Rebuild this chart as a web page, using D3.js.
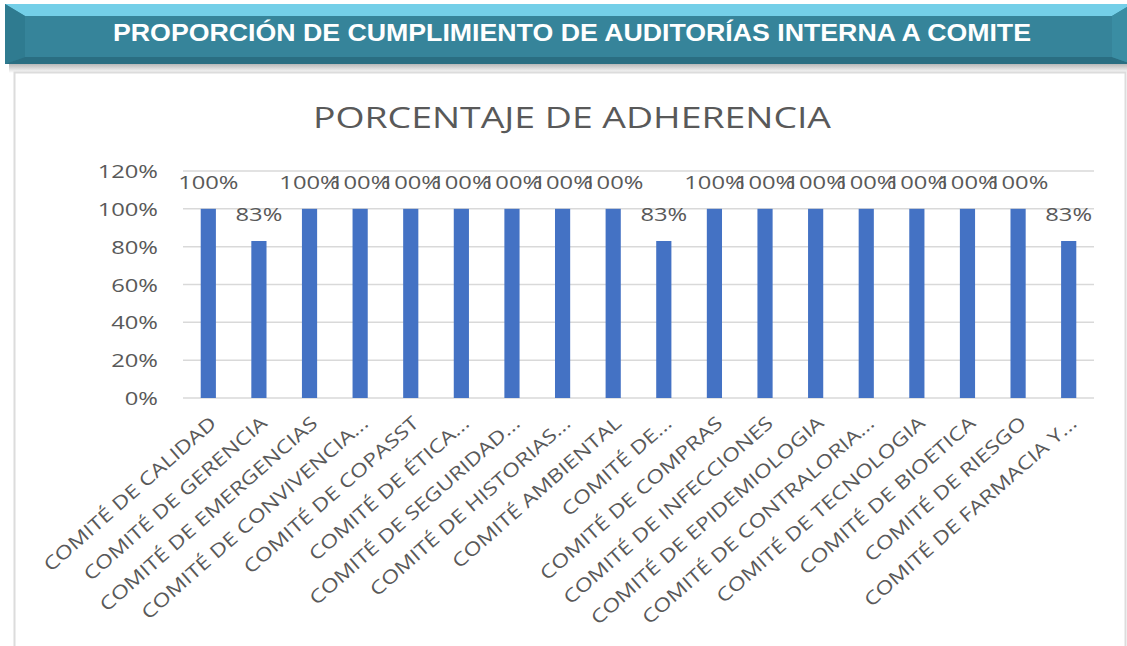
<!DOCTYPE html>
<html>
<head>
<meta charset="utf-8">
<script src="https://cdn.jsdelivr.net/npm/d3@7"></script>
<style>
  html, body { margin: 0; padding: 0; background: #fff; }
  svg { display: block; }
</style>
</head>
<body>
<div id="chart"></div>
<script>
// Comités y porcentaje de adherencia
const categories = [
  "COMITÉ DE CALIDAD", "COMITÉ DE GERENCIA", "COMITÉ DE EMERGENCIAS",
  "COMITÉ DE CONVIVENCIA...", "COMITÉ DE COPASST", "COMITÉ DE ÉTICA...",
  "COMITÉ DE SEGURIDAD...", "COMITÉ DE HISTORIAS...", "COMITÉ AMBIENTAL",
  "COMITÉ DE...", "COMITÉ DE COMPRAS", "COMITÉ DE INFECCIONES",
  "COMITÉ DE EPIDEMIOLOGIA", "COMITÉ DE CONTRALORIA...", "COMITÉ DE TECNOLOGIA",
  "COMITÉ DE BIOETICA", "COMITÉ DE RIESGO", "COMITÉ DE FARMACIA Y..."
];
const adherence = [1, 0.83, 1, 1, 1, 1, 1, 1, 1, 0.83, 1, 1, 1, 1, 1, 1, 1, 0.83];
const yTicks = [0, 0.2, 0.4, 0.6, 0.8, 1, 1.2];

const W = 1127, H = 646;
const plot = { left: 183, right: 1094, top: 171, bottom: 398 };
const textFont = "'Open Sans', 'Noto Sans', sans-serif";
const grey = "#595959";
const stretch = 1.25; // the source picture is wider than it is tall

const svg = d3.select("#chart").append("svg")
  .attr("width", W).attr("height", H);

// --- header banner ---
const banner = svg.append("g");
const bx0 = 5, bx1 = 1132, by0 = 4, by1 = 64, bev = 20, bevTop = 12, bevBot = 7;
const shadow = svg.append("defs").append("linearGradient")
  .attr("id", "shadow").attr("x1", 0).attr("y1", 0).attr("x2", 0).attr("y2", 1);
shadow.append("stop").attr("offset", 0).attr("stop-color", "#b8b8b8");
shadow.append("stop").attr("offset", 1).attr("stop-color", "#ffffff");
banner.append("rect").attr("x", bx0 + 4).attr("y", by1).attr("width", bx1 - bx0)
  .attr("height", 9).attr("fill", "url(#shadow)");
banner.append("rect").attr("x", bx0).attr("y", by0).attr("width", bx1 - bx0)
  .attr("height", by1 - by0).attr("fill", "#36849a");
const poly = (pts, fill) => banner.append("polygon")
  .attr("points", pts.map(p => p.join(",")).join(" ")).attr("fill", fill);
poly([[bx0, by0], [bx1, by0], [bx1 - bev, by0 + bevTop], [bx0 + bev, by0 + bevTop]], "#74cfe8");
poly([[bx0, by0], [bx0 + bev, by0 + bevTop], [bx0 + bev, by1 - bevBot], [bx0, by1]], "#2f7b90");
poly([[bx0, by1], [bx0 + bev, by1 - bevBot], [bx1 - bev, by1 - bevBot], [bx1, by1]], "#2a6e82");
poly([[bx1, by0], [bx1 - bev, by0 + bevTop], [bx1 - bev, by1 - bevBot], [bx1, by1]], "#3a8da3");
banner.append("text")
  .attr("x", 572).attr("y", 41)
  .attr("text-anchor", "middle")
  .attr("textLength", 918).attr("lengthAdjust", "spacingAndGlyphs")
  .attr("font-family", "'Liberation Sans', Arial, sans-serif")
  .attr("font-weight", "bold").attr("font-size", 24)
  .attr("fill", "#ffffff")
  .text("PROPORCIÓN DE CUMPLIMIENTO DE AUDITORÍAS INTERNA A COMITE");

// --- chart panel ---
svg.append("rect").attr("x", 14.5).attr("y", 72.5).attr("width", 1111)
  .attr("height", 580).attr("fill", "#fff")
  .attr("stroke", "#dcdcdc").attr("stroke-width", 2);

svg.append("text")
  .attr("x", 572).attr("y", 128)
  .attr("text-anchor", "middle")
  .attr("textLength", 518).attr("lengthAdjust", "spacingAndGlyphs")
  .attr("font-family", textFont).attr("font-size", 30)
  .attr("fill", grey)
  .text("PORCENTAJE DE ADHERENCIA");

// --- scales ---
const x = d3.scaleBand().domain(categories)
  .range([plot.left, plot.right]).paddingInner(0.7).paddingOuter(0.35);
const y = d3.scaleLinear().domain([0, 1.2]).range([plot.bottom, plot.top]);

// gridlines
svg.append("g").selectAll("line").data(yTicks).join("line")
  .attr("x1", plot.left).attr("x2", plot.right)
  .attr("y1", d => y(d)).attr("y2", d => y(d))
  .attr("stroke", "#d9d9d9").attr("stroke-width", 1.5);

// y axis labels
const yAxis = svg.append("g")
  .attr("transform", `translate(${plot.left - 25},0)`)
  .call(d3.axisLeft(y).tickValues(yTicks).tickFormat(d3.format(".0%")).tickSize(0).tickPadding(0));
yAxis.select(".domain").remove();
yAxis.selectAll("text")
  .attr("font-family", textFont).attr("font-size", 19).attr("fill", grey)
  .attr("dy", "0.35em")
  .attr("transform", `scale(${stretch},1)`);

// bars
svg.append("g").selectAll("rect").data(categories).join("rect")
  .attr("x", d => x(d))
  .attr("width", x.bandwidth())
  .attr("y", (d, i) => y(adherence[i]))
  .attr("height", (d, i) => y(0) - y(adherence[i]))
  .attr("fill", "#4472c4");

// data labels
svg.append("g").selectAll("text").data(categories).join("text")
  .attr("transform", (d, i) =>
    `translate(${x(d) + x.bandwidth() / 2},${y(adherence[i]) - 20}) scale(${stretch},1)`)
  .attr("text-anchor", "middle")
  .attr("font-family", textFont).attr("font-size", 19).attr("fill", grey)
  .text((d, i) => d3.format(".0%")(adherence[i]));

// x labels, rotated
svg.append("g").selectAll("text").data(categories).join("text")
  .attr("transform", d =>
    `translate(${x(d) + x.bandwidth() / 2 + 5},${plot.bottom + 22}) rotate(-41.5) scale(${stretch},1)`)
  .attr("text-anchor", "end")
  .attr("dy", "0.35em")
  .attr("font-family", textFont).attr("font-size", 18.5).attr("fill", grey)
  .text(d => d);
</script>
</body>
</html>
